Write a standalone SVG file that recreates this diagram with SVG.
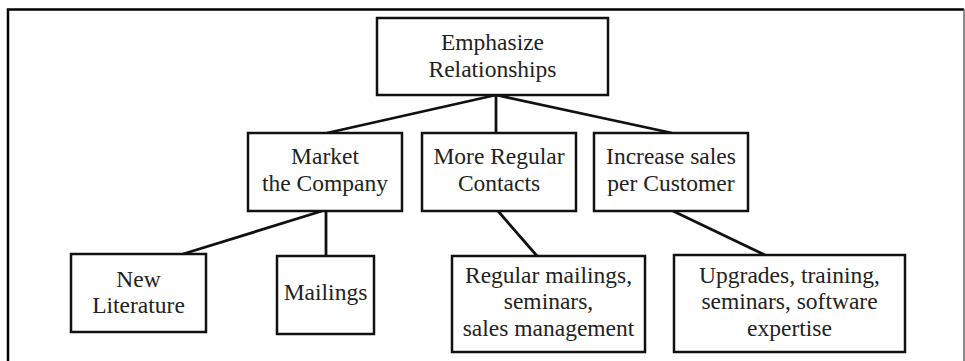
<svg xmlns="http://www.w3.org/2000/svg" width="965" height="361" viewBox="0 0 965 361">
<style>
.box{fill:#fff;stroke:#111;stroke-width:2.5}
.t{font-family:"Liberation Serif","Times New Roman",serif;font-size:23.5px;fill:#222;text-anchor:middle}
.c{stroke:#111;stroke-width:2.8;fill:none}
</style>
<rect x="0" y="0" width="965" height="361" fill="#fff"/>
<g id="frame">
<path d="M8 361 V9.5 H964" fill="none" stroke="#000" stroke-width="2.5"/>
<path d="M964 9 V361" fill="none" stroke="#666" stroke-width="1.5"/>
</g>
<g id="connectors">
<line class="c" x1="496" y1="95" x2="327" y2="133"/>
<line class="c" x1="496" y1="95" x2="496" y2="133"/>
<line class="c" x1="496" y1="95" x2="672" y2="133"/>
<line class="c" x1="322" y1="211" x2="183" y2="254"/>
<line class="c" x1="326" y1="211" x2="326" y2="256"/>
<line class="c" x1="498" y1="211" x2="537" y2="256"/>
<line class="c" x1="673" y1="211" x2="765" y2="255" stroke-width="2.2"/>
</g>
<g id="n-top">
<rect class="box" x="377" y="18" width="231" height="77"/>
<text class="t" x="492.5" y="50">Emphasize</text>
<text class="t" x="492.5" y="77">Relationships</text>
</g>
<g id="n-market">
<rect class="box" x="248" y="133" width="154" height="78"/>
<text class="t" x="325" y="164">Market</text>
<text class="t" x="325" y="191">the Company</text>
</g>
<g id="n-contacts">
<rect class="box" x="422" y="133" width="154" height="78"/>
<text class="t" x="499" y="164">More Regular</text>
<text class="t" x="499" y="191">Contacts</text>
</g>
<g id="n-sales">
<rect class="box" x="594" y="133" width="154" height="78"/>
<text class="t" x="671" y="164">Increase sales</text>
<text class="t" x="671" y="191">per Customer</text>
</g>
<g id="n-literature">
<rect class="box" x="71" y="254" width="135" height="78"/>
<text class="t" x="138.5" y="287">New</text>
<text class="t" x="138.5" y="313">Literature</text>
</g>
<g id="n-mailings">
<rect class="box" x="277" y="256" width="97" height="78"/>
<text class="t" x="325.5" y="300">Mailings</text>
</g>
<g id="n-regular">
<rect class="box" x="452" y="256" width="193" height="96"/>
<text class="t" x="548.5" y="283">Regular mailings,</text>
<text class="t" x="548.5" y="309">seminars,</text>
<text class="t" x="548.5" y="336">sales management</text>
</g>
<g id="n-upgrades">
<rect class="box" x="674" y="255" width="231" height="97"/>
<text class="t" x="789.5" y="283">Upgrades, training,</text>
<text class="t" x="789.5" y="309">seminars, software</text>
<text class="t" x="789.5" y="336">expertise</text>
</g>
</svg>
